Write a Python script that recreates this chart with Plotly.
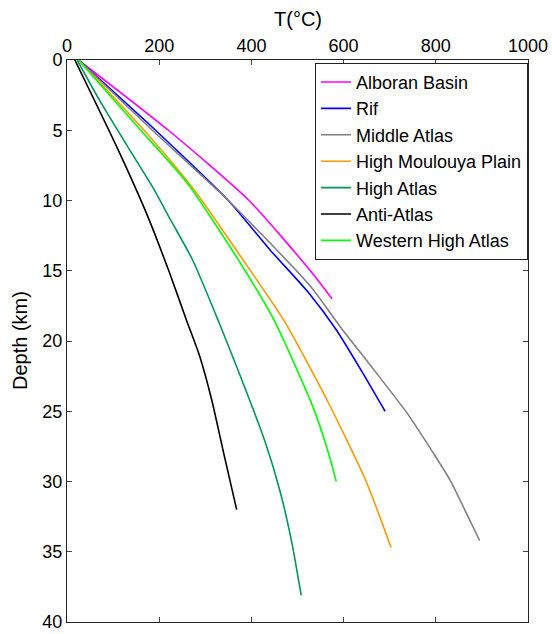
import plotly.graph_objects as go

names = ["Alboran Basin", "Rif", "Middle Atlas", "High Moulouya Plain",
         "High Atlas", "Anti-Atlas", "Western High Atlas"]
colors = ["#FF00FF", "#0000FF", "#808080", "#FF9900", "#00975A", "#000000", "#00FF00"]

alboran_depth = [0, 5, 10, 15, 17]
alboran_temp = [25, 220, 395, 528, 575]
rif_depth = [0, 5, 10, 13.5, 16.6, 19.2, 22.3, 25]
rif_temp = [25, 192, 350, 440, 525, 584, 642, 690]
middle_depth = [0, 5, 10, 16.1, 19, 21.6, 25.1, 28, 29.9, 32.3, 34.2]
middle_temp = [25, 185, 350, 528, 593, 655, 737, 795, 831, 867, 895]
moulouya_depth = [0, 5, 9.25, 14, 18.5, 24.2, 30, 34.7]
moulouya_temp = [25, 167, 276, 377, 470, 564, 649, 703]
highatlas_depth = [0, 3, 6.4, 9, 11.4, 14.2, 18.7, 23.5, 27.3, 30.8, 34.4, 38.1]
highatlas_temp = [22, 73, 136, 185, 225, 272, 330, 388, 431, 463, 488, 508]
anti_depth = [0, 6.4, 11.2, 15.2, 18.5, 21.1, 24.2, 28, 32]
anti_temp = [17, 111, 176, 223, 259, 288, 314, 340, 368]
wha_depth = [0, 5, 8.8, 14.5, 18.5, 24.9, 28.5, 30]
wha_temp = [25, 160, 262, 377, 449, 536, 572, 584]

series = [
    (alboran_temp, alboran_depth),
    (rif_temp, rif_depth),
    (middle_temp, middle_depth),
    (moulouya_temp, moulouya_depth),
    (highatlas_temp, highatlas_depth),
    (anti_temp, anti_depth),
    (wha_temp, wha_depth),
]

x_ticks = [0, 200, 400, 600, 800, 1000]
y_ticks = [0, 5, 10, 15, 20, 25, 30, 35, 40]

FF = "Liberation Sans, Arial, sans-serif"

fig = go.Figure()
for (t, d), n, c in zip(series, names, colors):
    fig.add_trace(go.Scatter(x=t, y=d, mode="lines", name=n,
                             line=dict(color=c, width=1.6, shape="spline", smoothing=0.6)))

fig.update_layout(
    width=552, height=634,
    margin=dict(l=67, r=24, t=60, b=12),
    paper_bgcolor="white", plot_bgcolor="white",
    font=dict(family=FF, size=18, color="black"),
    showlegend=True,
    legend=dict(x=1.0, y=0.995, xanchor="right", yanchor="top",
                bgcolor="white", bordercolor="#222", borderwidth=1,
                font=dict(family=FF, size=18, color="black"),
                tracegroupgap=0, itemwidth=30),
    xaxis=dict(side="top", range=[0, 1000], tickvals=x_ticks, automargin=False,
               ticks="inside", ticklen=5, tickcolor="#444",
               showline=True, mirror="ticks", linecolor="#222", linewidth=1,
               showgrid=False, zeroline=False),
    yaxis=dict(range=[40, 0], tickvals=y_ticks, automargin=False,
               ticks="inside", ticklen=5, tickcolor="#444",
               showline=True, mirror="ticks", linecolor="#222", linewidth=1,
               showgrid=False, zeroline=False),
    annotations=[
        dict(text="T(°C)", xref="paper", yref="paper", x=0.5, y=1.0,
             yshift=41, xanchor="center", yanchor="middle", showarrow=False,
             font=dict(family=FF, size=20, color="black")),
        dict(text="Depth (km)", xref="paper", yref="paper", x=0.0, y=0.5,
             xshift=-47, xanchor="center", yanchor="middle", textangle=-90,
             showarrow=False, font=dict(family=FF, size=20, color="black")),
    ],
)

fig.write_html("out.html")
